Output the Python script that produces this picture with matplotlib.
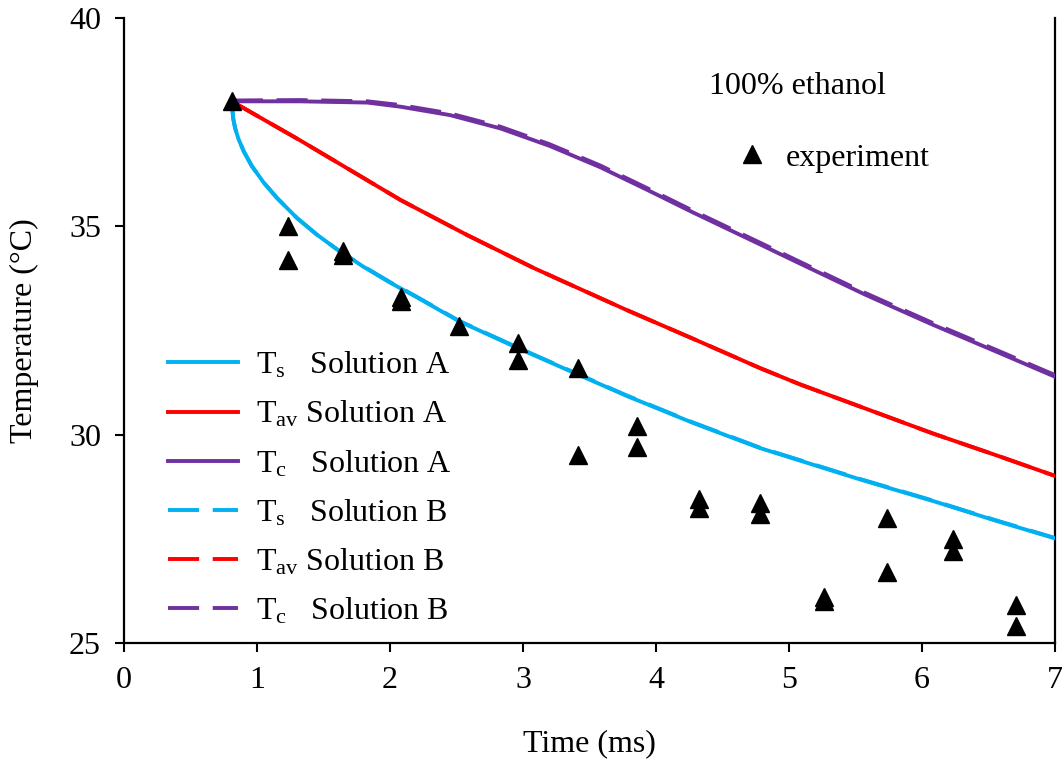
import matplotlib
matplotlib.use("Agg")
import matplotlib.pyplot as plt

plt.rcParams['font.family'] = ['Liberation Serif', 'DejaVu Serif']
plt.rcParams['mathtext.fontset'] = 'custom'
plt.rcParams['mathtext.rm'] = 'Liberation Serif'
plt.rcParams['mathtext.it'] = 'Liberation Serif:italic'

# ---- data ----
ts_a_time = [0.81, 0.82, 0.835, 0.86, 0.90, 0.96, 1.05, 1.15, 1.30, 1.45, 1.60, 1.80, 2.00, 2.20,
             2.52, 2.96, 3.28, 3.78, 4.28, 4.78, 5.08, 5.53, 6.08, 6.54, 7.0]
ts_a_temp = [38.0, 37.6, 37.36, 37.1, 36.8, 36.45, 36.05, 35.68, 35.2, 34.8, 34.45, 34.03, 33.65, 33.3,
             32.72, 32.08, 31.63, 30.93, 30.28, 29.68, 29.38, 28.93, 28.41, 27.95, 27.51]

tav_a_time = [0.81, 1.32, 1.70, 2.08, 2.58, 3.08, 3.28, 3.78, 4.28, 4.78, 5.08, 5.58, 6.08, 6.59, 7.0]
tav_a_temp = [38.0, 37.07, 36.35, 35.63, 34.79, 34.0, 33.71, 32.99, 32.30, 31.60, 31.21, 30.62, 30.03, 29.47, 29.01]

tc_a_time = [0.81, 1.32, 1.83, 2.08, 2.45, 2.83, 3.2, 3.58, 3.95, 4.28, 4.78, 5.08, 5.58, 6.08, 6.59, 7.0]
tc_a_temp = [38.0, 38.0, 37.97, 37.87, 37.67, 37.35, 36.93, 36.42, 35.85, 35.33, 34.57, 34.11, 33.35, 32.64, 31.95, 31.39]

ts_b_time = [0.81, 0.82, 0.835, 0.86, 0.90, 0.96, 1.05, 1.15, 1.30, 1.45, 1.60, 1.80, 2.00, 2.20,
             2.52, 2.96, 3.28, 3.78, 4.28, 4.78, 5.08, 5.53, 6.08, 6.54, 7.0]
ts_b_temp = [38.0, 37.6, 37.36, 37.1, 36.8, 36.45, 36.05, 35.68, 35.2, 34.8, 34.45, 34.04, 33.66, 33.31,
             32.73, 32.09, 31.64, 30.94, 30.29, 29.69, 29.39, 28.94, 28.42, 27.96, 27.52]

tav_b_time = [0.81, 1.32, 1.70, 2.08, 2.58, 3.08, 3.28, 3.78, 4.28, 4.78, 5.08, 5.58, 6.08, 6.59, 7.0]
tav_b_temp = [38.0, 37.07, 36.35, 35.63, 34.79, 34.0, 33.71, 32.99, 32.30, 31.60, 31.21, 30.62, 30.03, 29.47, 29.01]

tc_b_time = [0.81, 1.32, 1.83, 2.08, 2.45, 2.83, 3.2, 3.58, 3.95, 4.28, 4.78, 5.08, 5.58, 6.08, 6.59, 7.0]
tc_b_temp = [38.02, 38.03, 38.0, 37.91, 37.71, 37.39, 36.97, 36.46, 35.89, 35.37, 34.61, 34.15, 33.39, 32.68, 31.99, 31.43]

exp_time = [0.81, 1.23, 1.23, 1.65, 1.65, 2.08, 2.08, 2.52, 2.96, 2.96, 3.41, 3.41, 3.86, 3.86,
            4.32, 4.32, 4.78, 4.78, 5.26, 5.26, 5.74, 5.74, 6.23, 6.23, 6.71, 6.71]
exp_temp = [38.0, 35.0, 34.2, 34.4, 34.3, 33.3, 33.2, 32.6, 32.2, 31.8, 31.6, 29.5, 30.2, 29.7,
            28.45, 28.25, 28.35, 28.1, 26.1, 26.0, 28.0, 26.7, 27.5, 27.2, 25.9, 25.4]

x_ticks = [0, 1, 2, 3, 4, 5, 6, 7]
y_ticks = [25, 30, 35, 40]

labels = [r'$\mathrm{T_{s}}$   Solution A', r'$\mathrm{T_{av}}$ Solution A', r'$\mathrm{T_{c}}$   Solution A',
          r'$\mathrm{T_{s}}$   Solution B', r'$\mathrm{T_{av}}$ Solution B', r'$\mathrm{T_{c}}$   Solution B']

CYAN = '#00B0F0'
RED = '#FF0000'
PURPLE = '#7030A0'
FS = 23

fig = plt.figure(figsize=(10.62, 7.62), dpi=100)
ax = fig.add_axes([0.1168, 0.1562, 0.8766, 0.8202])

lw = 2.8
dash = (0, (8, 3.5))
h1, = ax.plot(ts_a_time, ts_a_temp, color=CYAN, lw=lw, zorder=3)
h2, = ax.plot(tav_a_time, tav_a_temp, color=RED, lw=lw, zorder=3)
h3, = ax.plot(tc_a_time, tc_a_temp, color=PURPLE, lw=lw, zorder=3)
h4, = ax.plot(ts_b_time, ts_b_temp, color=CYAN, lw=lw, ls=dash, zorder=3)
h5, = ax.plot(tav_b_time, tav_b_temp, color=RED, lw=lw, ls=dash, zorder=3)
h6, = ax.plot(tc_b_time, tc_b_temp, color=PURPLE, lw=lw, ls=dash, zorder=3)
hexp, = ax.plot(exp_time, exp_temp, ls='none', marker='^', ms=12.5, color='black', zorder=4)

ax.set_xlim(0, 7)
ax.set_ylim(25, 40)
ax.set_xticks(x_ticks)
ax.set_yticks(y_ticks)
ax.tick_params(direction='out', length=6.5, width=1.5, labelsize=FS)
ax.tick_params(axis='x', pad=10)
ax.tick_params(axis='y', pad=10)
for s in ['left', 'bottom', 'right']:
    ax.spines[s].set_linewidth(1.6)
ax.spines['top'].set_visible(False)

ax.set_xlabel('Time (ms)', fontsize=FS, labelpad=25)
ax.set_ylabel('Temperature (\u00b0C)', fontsize=FS, labelpad=22)

leg1 = ax.legend([h1, h2, h3, h4, h5, h6], labels, loc='upper left',
                 bbox_to_anchor=(0.047, 0.4685), frameon=False, fontsize=FS,
                 handlelength=2.2, handletextpad=0.55, labelspacing=0.585,
                 borderpad=0, borderaxespad=0)
ax.add_artist(leg1)

ax.legend([hexp], ['experiment'], loc='center left', bbox_to_anchor=(0.664, 0.776),
          frameon=False, fontsize=FS, handlelength=0.6, handletextpad=0.75,
          borderpad=0, borderaxespad=0)

ax.text(0.723, 0.891, '100% ethanol', transform=ax.transAxes, fontsize=FS,
        ha='center', va='center')

fig.savefig('out.png', dpi=100)
